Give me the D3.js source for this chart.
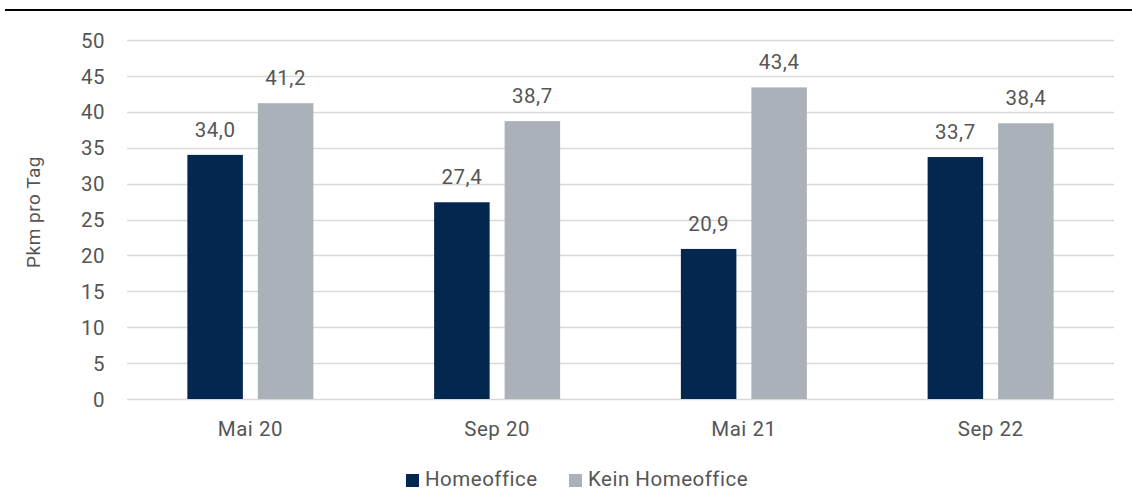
<!DOCTYPE html>
<html>
<head>
<meta charset="utf-8">
<script src="https://cdn.jsdelivr.net/npm/d3@7"></script>
<style>
  body { margin: 0; background: #fff; }
  svg text { font-family: "Roboto", "Liberation Sans", sans-serif; fill: #555555; font-weight: 400; letter-spacing: 0.5px; }
</style>
</head>
<body>
<svg id="chart" width="1132" height="490"></svg>
<script>
// Personenkilometer pro Tag, mit und ohne Homeoffice
const categories = ["Mai 20", "Sep 20", "Mai 21", "Sep 22"];
const seriesNames = ["Homeoffice", "Kein Homeoffice"];
const homeoffice = [34.0, 27.4, 20.9, 33.7];
const keinHomeoffice = [41.2, 38.7, 43.4, 38.4];
const yTicks = [0, 5, 10, 15, 20, 25, 30, 35, 40, 45, 50];
const colors = ["#03274f", "#abb1b8"];
const fontSize = "20.5px";

const svg = d3.select("#chart");
const margin = { left: 127, right: 1114, top: 40, bottom: 399 };

// Top rule
svg.append("line")
  .attr("x1", 5).attr("x2", 1132).attr("y1", 10).attr("y2", 10)
  .attr("stroke", "#000").attr("stroke-width", 2);

const x0 = d3.scaleBand().domain(categories)
  .range([margin.left, margin.right]).paddingInner(0).paddingOuter(0);
const y = d3.scaleLinear().domain([0, 50]).range([margin.bottom, margin.top]);

// Gridlines
svg.append("g").selectAll("line").data(yTicks).join("line")
  .attr("x1", margin.left).attr("x2", margin.right)
  .attr("y1", d => Math.round(y(d)) + 0.5).attr("y2", d => Math.round(y(d)) + 0.5)
  .attr("stroke", "#d9d9d9").attr("stroke-width", 1.5);

// Y axis labels
const yAxis = d3.axisLeft(y).tickValues(yTicks).tickSize(0).tickPadding(0);
const gy = svg.append("g").attr("transform", `translate(105,0)`).call(yAxis);
gy.select(".domain").remove();
gy.selectAll("text").style("font-size", fontSize).attr("dy", "0.35em");

// Y axis title
svg.append("text")
  .attr("transform", "translate(40,212) rotate(-90)")
  .attr("text-anchor", "middle")
  .style("font-size", "19px")
  .text("Pkm pro Tag");

// X axis labels
const xAxis = d3.axisBottom(x0).tickSize(0).tickPadding(0);
const gx = svg.append("g").attr("transform", `translate(0,${margin.bottom})`).call(xAxis);
gx.select(".domain").remove();
gx.selectAll("text").style("font-size", fontSize).attr("y", 37).attr("dy", 0);

// Bars
const barW = 55.5, gap = 15;
const x1 = d3.scaleOrdinal().domain(seriesNames)
  .range([-(gap / 2) - barW, gap / 2]);

const rows = categories.map((c, i) => ({
  cat: c,
  values: [
    { name: seriesNames[0], v: homeoffice[i] },
    { name: seriesNames[1], v: keinHomeoffice[i] }
  ]
}));

const groups = svg.append("g").selectAll("g").data(rows).join("g")
  .attr("transform", d => `translate(${x0(d.cat) + x0.bandwidth() / 2},0)`);

groups.selectAll("rect").data(d => d.values).join("rect")
  .attr("x", d => x1(d.name))
  .attr("width", barW)
  .attr("y", d => y(d.v))
  .attr("height", d => y(0) - y(d.v))
  .attr("fill", (d, i) => colors[i]);

groups.selectAll("text.val").data(d => d.values).join("text")
  .attr("class", "val")
  .attr("x", d => x1(d.name) + barW / 2)
  .attr("y", d => y(d.v) - 18)
  .attr("text-anchor", "middle")
  .style("font-size", fontSize)
  .text(d => d3.format(".1f")(d.v).replace(".", ","));

// Legend
const legend = svg.append("g");
const legendItems = [
  { name: seriesNames[0], x: 406, color: colors[0] },
  { name: seriesNames[1], x: 569, color: colors[1] }
];
legend.selectAll("rect").data(legendItems).join("rect")
  .attr("x", d => d.x).attr("y", 474).attr("width", 13).attr("height", 13)
  .attr("fill", d => d.color);
legend.selectAll("text").data(legendItems).join("text")
  .attr("x", d => d.x + 19).attr("y", 486)
  .style("font-size", fontSize)
  .text(d => d.name);
</script>
</body>
</html>
